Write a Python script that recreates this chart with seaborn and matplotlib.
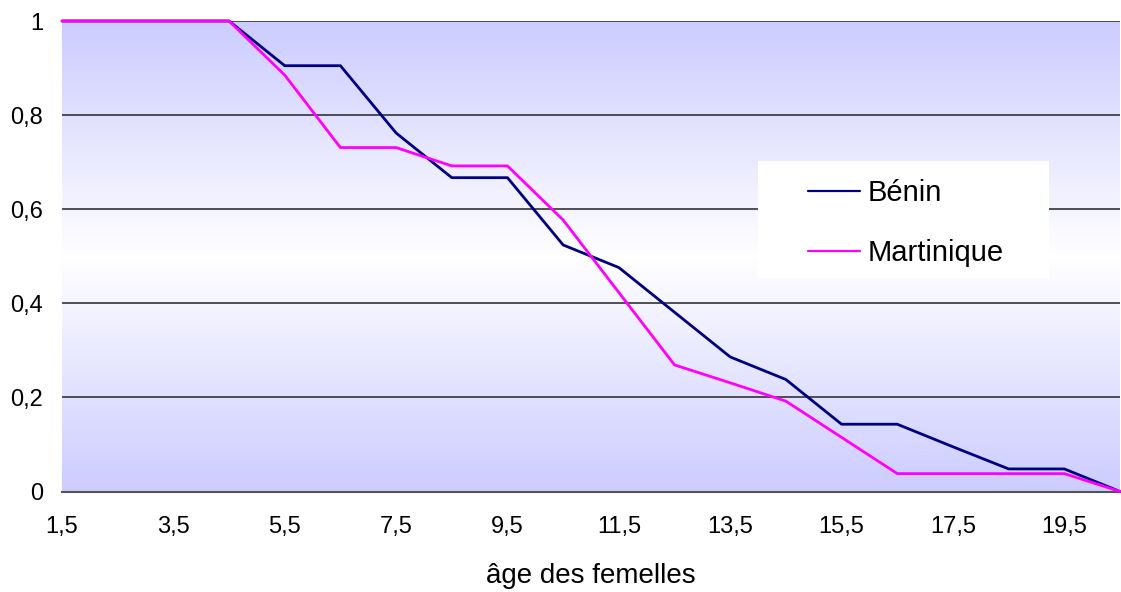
import numpy as np
import pandas as pd
import matplotlib
matplotlib.use("Agg")
import matplotlib.pyplot as plt
import seaborn as sns
from matplotlib.patches import Rectangle

# ---- data ----
ages = [1.5, 2.5, 3.5, 4.5, 5.5, 6.5, 7.5, 8.5, 9.5, 10.5,
        11.5, 12.5, 13.5, 14.5, 15.5, 16.5, 17.5, 18.5, 19.5, 20.5]
benin = [1, 1, 1, 1, 0.905, 0.905, 0.762, 0.667, 0.667, 0.524,
         0.476, 0.381, 0.286, 0.238, 0.143, 0.143, 0.095, 0.048, 0.048, 0]
martinique = [1, 1, 1, 1, 0.885, 0.731, 0.731, 0.692, 0.692, 0.577,
              0.423, 0.269, 0.231, 0.192, 0.115, 0.038, 0.038, 0.038, 0.038, 0]
series_names = ["Bénin", "Martinique"]
x_tick_labels = ["1,5", "", "3,5", "", "5,5", "", "7,5", "", "9,5", "",
                 "11,5", "", "13,5", "", "15,5", "", "17,5", "", "19,5", ""]
y_ticks = [0, 0.2, 0.4, 0.6, 0.8, 1]
y_tick_labels = ["0", "0,2", "0,4", "0,6", "0,8", "1"]
x_title = "âge des femelles"

df = pd.DataFrame({
    "age": ages + ages,
    "value": benin + martinique,
    "region": [series_names[0]] * len(ages) + [series_names[1]] * len(ages),
})

sns.set_style("white")
plt.rcParams['font.family'] = ['Liberation Sans', 'DejaVu Sans']
plt.rcParams['text.color'] = 'black'

W, H = 1121, 592
fig = plt.figure(figsize=(W / 100, H / 100), dpi=100)
ax = fig.add_axes([62 / W, 1 - 491.5 / H, 1058 / W, 470.5 / H])

# gradient background (blue at top/bottom, white in the middle)
t = np.linspace(0, 1, 256)
w = (np.abs(t - 0.5) / 0.5)[:, None]
blue = np.array([204, 204, 255]) / 255.0
white = np.array([1.0, 1.0, 1.0])
img = (white * (1 - w) + blue * w)[:, None, :]
ax.imshow(img, extent=[ages[0], ages[-1], 0, 1], origin="lower",
          aspect="auto", zorder=0, interpolation="bilinear")

sns.lineplot(data=df, x="age", y="value", hue="region",
             palette={"Bénin": "#000080", "Martinique": "#FF00FF"},
             linewidth=2, ax=ax, zorder=4)
for ln in ax.lines:
    ln.set_clip_on(False)

ax.set_xlim(ages[0], ages[-1])
ax.set_ylim(0, 1)
ax.set_xticks(ages)
ax.set_xticklabels(x_tick_labels, fontsize=17)
ax.set_yticks(y_ticks)
ax.set_yticklabels(y_tick_labels, fontsize=17)
ax.set_xlabel("")
ax.set_ylabel("")

ax.set_axisbelow(True)
ax.yaxis.grid(True, color="#333333", linewidth=1.2)
ax.xaxis.grid(False)

for s in ["left", "top", "right"]:
    ax.spines[s].set_visible(False)
ax.spines["bottom"].set_color("#555555")
ax.spines["bottom"].set_linewidth(1.5)
ax.spines["bottom"].set_zorder(3)

ax.tick_params(axis="x", direction="out", length=7, width=1, color="#333333",
               pad=10.5, labelcolor="black")
ax.tick_params(axis="y", length=0, pad=13.5, labelcolor="black")

fig.text(591 / W, (H - 583) / H, x_title, ha="center", va="baseline",
         fontsize=20, color="black")

# legend
ax.add_patch(Rectangle((758 / W, 1 - 278 / H), 291 / W, 117 / H,
                       transform=fig.transFigure, facecolor="white",
                       edgecolor="none", zorder=5, clip_on=False))
handles, labels = ax.get_legend_handles_labels()
leg = ax.legend(handles, labels, loc="upper left",
                bbox_to_anchor=(808 / W, 1 - 179 / H),
                bbox_transform=fig.transFigure, frameon=False, fontsize=21,
                handlelength=1.78, handletextpad=0.28, labelspacing=1.1,
                borderpad=0, borderaxespad=0)
leg.set_zorder(6)
for lh in leg.get_lines():
    lh.set_linewidth(1.6)
for txt in leg.get_texts():
    txt.set_color("black")

fig.savefig("out.png", dpi=100)
